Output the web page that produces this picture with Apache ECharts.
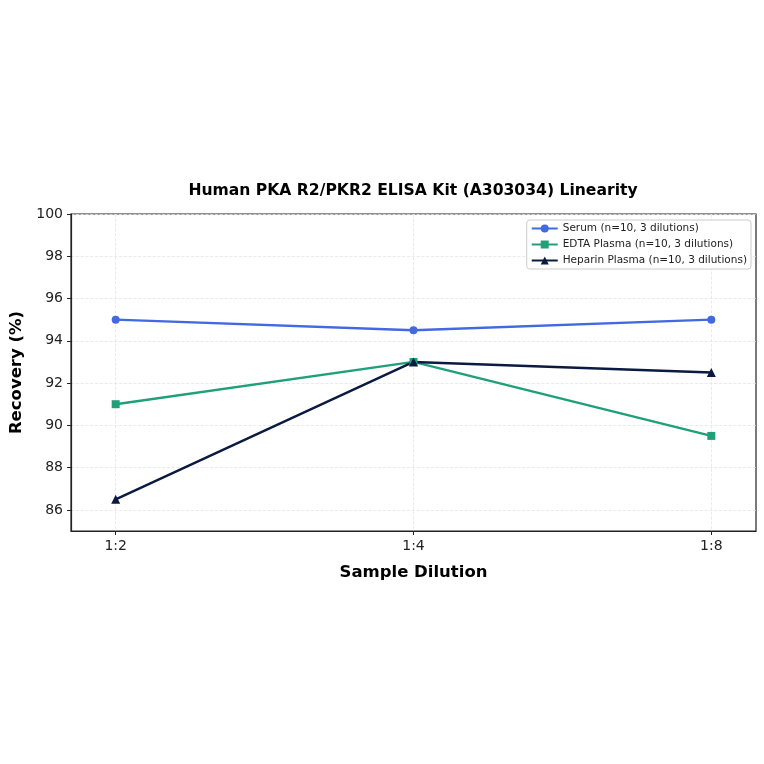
<!DOCTYPE html>
<html>
<head>
<meta charset="utf-8">
<script src="https://cdn.jsdelivr.net/npm/echarts@6/dist/echarts.min.js"></script>
<style>
  html, body { margin: 0; padding: 0; background: #fff; }
  #main { width: 764px; height: 764px; }
</style>
</head>
<body>
<div id="main"></div>
<script>
var dilutions = ['1:2', '1:4', '1:8'];
var serum = [95.0, 94.5, 95.0];
var edta = [91.0, 93.0, 89.5];
var heparin = [86.5, 93.0, 92.5];
var yTicks = [86, 88, 90, 92, 94, 96, 98, 100];
var names = ['Serum (n=10, 3 dilutions)', 'EDTA Plasma (n=10, 3 dilutions)', 'Heparin Plasma (n=10, 3 dilutions)'];

function pts(vals) {
    var out = [];
    for (var i = 0; i < vals.length; i++) {
        out.push([i, vals[i]]);
    }
    return out;
}

var myChart = echarts.init(document.getElementById('main'));
myChart.setOption({
    animation: false,
    textStyle: { fontFamily: 'DejaVu Sans' },
    title: {
        text: 'Human PKA R2/PKR2 ELISA Kit (A303034) Linearity',
        left: 408,
        textAlign: 'center',
        top: 178,
        textStyle: { fontSize: 15.6, fontWeight: 'bold', color: '#000' }
    },
    legend: {
        data: names,
        orient: 'vertical',
        right: 13,
        top: 220,
        itemGap: 5,
        itemWidth: 26,
        itemHeight: 10,
        padding: [3, 4, 3, 4],
        backgroundColor: '#fff',
        borderColor: '#ccc',
        borderWidth: 1,
        borderRadius: 3,
        textStyle: { fontSize: 10.5, color: '#222' }
    },
    grid: { left: 70, right: 8, top: 214, bottom: 233, show: true, borderColor: '#222', borderWidth: 1.2 },
    xAxis: {
        type: 'value',
        min: -0.15,
        max: 2.15,
        name: 'Sample Dilution',
        nameLocation: 'middle',
        nameGap: 33,
        nameTextStyle: { fontSize: 16.5, fontWeight: 'bold', color: '#000' },
        axisLine: { onZero: false, lineStyle: { color: '#222', width: 1.2 } },
        axisTick: { show: true, length: 4, customValues: [0, 1, 2], lineStyle: { color: '#222' } },
        axisLabel: {
            fontSize: 14, color: '#222', margin: 8,
            customValues: [0, 1, 2],
            formatter: function (v) { return dilutions[Math.round(v)]; }
        },
        splitLine: { show: true, lineStyle: { color: '#e4e4e4', type: 'dashed', width: 0.8 } }
    },
    yAxis: {
        type: 'value',
        min: 85,
        max: 100,
        name: 'Recovery (%)',
        nameLocation: 'middle',
        nameGap: 46,
        nameTextStyle: { fontSize: 16.5, fontWeight: 'bold', color: '#000' },
        axisLine: { show: true, onZero: false, lineStyle: { color: '#222', width: 1.2 } },
        axisTick: { show: true, length: 4, customValues: yTicks, lineStyle: { color: '#222' } },
        axisLabel: {
            fontSize: 14, color: '#222', margin: 8,
            customValues: yTicks
        },
        splitLine: { show: true, lineStyle: { color: '#e4e4e4', type: 'dashed', width: 0.8 } }
    },
    series: [{
        name: names[0],
        type: 'line',
        data: pts(serum),
        symbol: 'circle',
        symbolSize: 8,
        itemStyle: { color: '#4169E1' },
        lineStyle: { width: 2.4, color: '#4169E1' }
    }, {
        name: names[1],
        type: 'line',
        data: pts(edta),
        symbol: 'rect',
        symbolSize: 8,
        itemStyle: { color: '#20A078' },
        lineStyle: { width: 2.4, color: '#20A078' }
    }, {
        name: names[2],
        type: 'line',
        data: pts(heparin),
        symbol: 'triangle',
        symbolSize: 9,
        itemStyle: { color: '#0B1A40' },
        lineStyle: { width: 2.4, color: '#0B1A40' }
    }]
});
</script>
</body>
</html>
